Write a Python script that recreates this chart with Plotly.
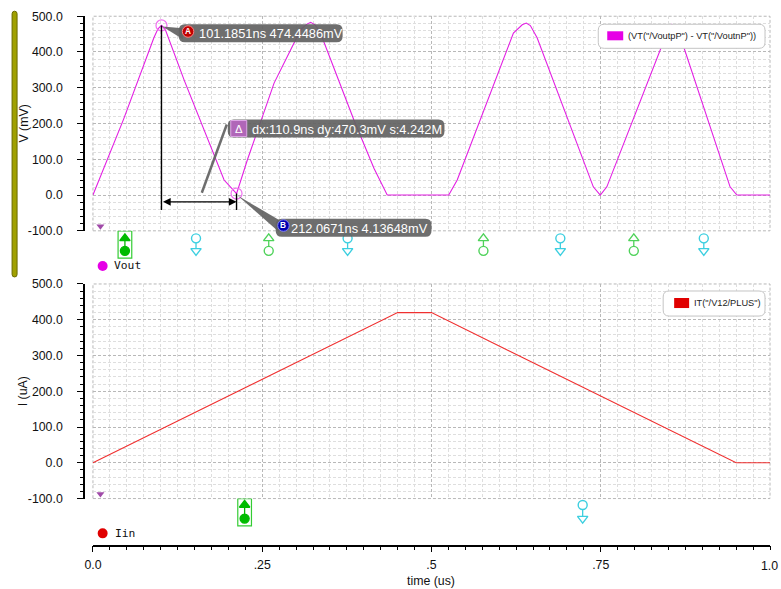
import plotly.graph_objects as go

# ---------------- data ----------------
vout_t = [0.000, 0.045, 0.090, 0.0960, 0.1012, 0.1070, 0.135, 0.169, 0.1937, 0.2121,
          0.228, 0.2675, 0.307, 0.3160, 0.3215, 0.3280, 0.336, 0.3854, 0.415, 0.4346,
          0.5255, 0.538, 0.621, 0.6340, 0.6400, 0.6460, 0.656, 0.739, 0.7493, 0.759,
          0.8476, 0.8550, 0.8620, 0.8673, 0.941, 0.951, 1.000]
vout_mv = [0.0, 211.0, 440.0, 465.0, 474.4, 462.0, 320.0, 160.0, 42.0, 4.1,
           98.0, 313.0, 463.0, 478.0, 483.0, 476.0, 453.0, 210.0, 75.0, 0.0,
           0.0, 42.0, 453.0, 476.0, 481.0, 474.0, 440.0, 23.0, 0.0, 23.0,
           453.0, 477.0, 465.0, 444.0, 23.0, 0.0, 0.0]

iin_t = [0.0, 0.45, 0.50, 0.95, 1.0]
iin_ua = [0.0, 420.0, 420.0, 0.0, 0.0]

cursor_a = (0.1011851, 474.4486)
cursor_b = (0.2120671, 4.13648)
label_a = "101.1851ns 474.4486mV"
label_b = "212.0671ns 4.13648mV"
label_delta = "dx:110.9ns dy:470.3mV s:4.242M"

# crossing markers (time in us)
top_fill_green = [0.0472]
top_open_green = [0.2596, 0.5767, 0.7988]
top_cyan = [0.1522, 0.3761, 0.6903, 0.9022]
bot_fill_green = [0.2240]
bot_cyan = [0.7233]

x_major = [0.0, 0.25, 0.5, 0.75, 1.0]
x_major_text = ["0.0", ".25", ".5", ".75", ""]
x_last_text = "1.0"
x_minor = [round(i * 0.025, 3) for i in range(41)]
y_major = [-100, 0, 100, 200, 300, 400, 500]
y_major_text = ["-100.0", "0.0", "100.0", "200.0", "300.0", "400.0", "500.0"]
y_minor = list(range(-100, 501, 20))

legend_top = '(VT("/VoutpP") - VT("/VoutnP"))'
legend_bot = 'IT("/V12/PLUS")'

# ---------------- geometry helpers ----------------
FIG_W, FIG_H = 781, 589
SX, SY = 781 / 789, 589 / 605          # how the photographed page ends up scaled
OX, OY = 8 * SX, 8 * SY
W, H = FIG_W * SX, FIG_H * SY
def px(x):
    return (x - OX) / W
def py(y):
    return 1 - (y - OY) / H
def fs(size):
    return round(size / SY, 2)

PX0, PX1 = 92, 770
TOP_Y0, TOP_Y1 = 17, 231
BOT_Y0, BOT_Y1 = 284, 498
MV_PER_PX = 600 / (TOP_Y1 - TOP_Y0)

def tx(t):
    return PX0 + (PX1 - PX0) * t
def vy_top(v):
    return TOP_Y1 - (v + 100) * (TOP_Y1 - TOP_Y0) / 600

def rrect(x0, y0, x1, y1, r):
    pts = [
        ("M", [(x0 + r, y0)]), ("L", [(x1 - r, y0)]), ("Q", [(x1, y0), (x1, y0 + r)]),
        ("L", [(x1, y1 - r)]), ("Q", [(x1, y1), (x1 - r, y1)]), ("L", [(x0 + r, y1)]),
        ("Q", [(x0, y1), (x0, y1 - r)]), ("L", [(x0, y0 + r)]), ("Q", [(x0, y0), (x0 + r, y0)]),
    ]
    s = ""
    for cmd, ps in pts:
        s += cmd + " " + " ".join(f"{px(a):.5f},{py(b):.5f}" for a, b in ps) + " "
    return s + "Z"

def poly(points):
    return "M " + " L ".join(f"{px(a):.5f},{py(b):.5f}" for a, b in points) + " Z"

MAGENTA = "#e31fe3"
RED = "#f03030"
CYAN = "#3ccfe0"
GREEN_O = "#4fd25a"
GREEN_F = "#00bb00"
MAJ = "#b8b8b8"
MIN = "#dedede"
FONT = "Liberation Sans, Arial, sans-serif"
GRAYBOX = "rgba(98,98,98,0.92)"

fig = go.Figure()

fig.add_trace(go.Scatter(x=vout_t, y=vout_mv, mode="lines", line=dict(color=MAGENTA, width=1.1),
                         xaxis="x", yaxis="y", showlegend=False, hoverinfo="skip"))
fig.add_trace(go.Scatter(x=iin_t, y=iin_ua, mode="lines", line=dict(color=RED, width=1.1),
                         xaxis="x2", yaxis="y2", showlegend=False, hoverinfo="skip"))

# cursor points
fig.add_trace(go.Scatter(x=[cursor_a[0], cursor_b[0]], y=[cursor_a[1], cursor_b[1]], mode="markers",
                         marker=dict(symbol="circle-open", size=11, color="#f070f0", line=dict(width=1.2)),
                         xaxis="x", yaxis="y", showlegend=False, hoverinfo="skip", cliponaxis=False))

# small purple triangles
for xa, ya in (("x", "y"), ("x2", "y2")):
    fig.add_trace(go.Scatter(x=[0.011], y=[-87], mode="markers",
                             marker=dict(symbol="triangle-down", size=7, color="#a04aa8"),
                             xaxis=xa, yaxis=ya, showlegend=False, hoverinfo="skip"))

def stem(ts, color, top_sym, bot_sym, filled, xa, ya, ytop=-121, ybot=-156):
    xs, ys = [], []
    for t in ts:
        xs += [t, t, None]
        ys += [ytop, ybot, None]
    fig.add_trace(go.Scatter(x=xs, y=ys, mode="lines", line=dict(color=color, width=1.3),
                             xaxis=xa, yaxis=ya, showlegend=False, hoverinfo="skip", cliponaxis=False))
    fill = color if filled else "white"
    for sym, yy in ((top_sym, ytop), (bot_sym, ybot)):
        fig.add_trace(go.Scatter(x=ts, y=[yy] * len(ts), mode="markers",
                                 marker=dict(symbol=sym, size=9, color=fill, line=dict(color=color, width=1.4)),
                                 xaxis=xa, yaxis=ya, showlegend=False, hoverinfo="skip", cliponaxis=False))

stem(top_fill_green, GREEN_F, "triangle-up", "circle", True, "x3", "y3")
stem(top_open_green, GREEN_O, "triangle-up", "circle", False, "x3", "y3")
stem(top_cyan, CYAN, "circle", "triangle-down", False, "x3", "y3")
stem(bot_fill_green, GREEN_F, "triangle-up", "circle", True, "x4", "y4", ytop=-118, ybot=-156)
stem(bot_cyan, CYAN, "circle", "triangle-down", False, "x4", "y4", ytop=-118, ybot=-156)

shapes = []
annotations = []

# plot frames (dashed)
for y0, y1 in ((TOP_Y0, TOP_Y1), (BOT_Y0, BOT_Y1)):
    shapes.append(dict(type="rect", xref="paper", yref="paper", x0=px(PX0), x1=px(PX1), y0=py(y1), y1=py(y0),
                       line=dict(color=MAJ, width=1, dash="3px,2px"), layer="below"))

# green boxes around filled markers
for t, xa, ya in ((top_fill_green[0], "x3", "y3"), (bot_fill_green[0], "x4", "y4")):
    shapes.append(dict(type="rect", xref=xa, yref=ya, x0=t - 0.0101, x1=t + 0.0101,
                       y0=-100.5, y1=-176.5, line=dict(color="#33cc33", width=1.2)))

# olive bar
shapes.append(dict(type="path", xref="paper", yref="paper", path=rrect(11, 12, 16, 277, 2.5),
                   fillcolor="#a0a000", line=dict(color="#6a6a00", width=1)))

# cursor lines
ya_px = vy_top(cursor_a[1])
yb_px = vy_top(cursor_b[1])
shapes.append(dict(type="line", xref="x", yref="y", x0=cursor_a[0], x1=cursor_a[0], y0=cursor_a[1], y1=-42,
                   line=dict(color="black", width=1.4)))
shapes.append(dict(type="line", xref="x", yref="y", x0=cursor_b[0], x1=cursor_b[0], y0=cursor_b[1], y1=-42,
                   line=dict(color="black", width=1.4)))
annotations.append(dict(x=cursor_b[0], y=-19, ax=cursor_a[0], ay=-19, xref="x", yref="y", axref="x", ayref="y",
                        text="", showarrow=True, arrowhead=2, arrowside="end+start", arrowsize=1.1,
                        arrowwidth=1.4, arrowcolor="black"))

xa_px = tx(cursor_a[0])
xb_px = tx(cursor_b[0])

# connectors
shapes.append(dict(type="path", xref="paper", yref="paper",
                   path=poly([(xa_px + 1, ya_px + 1), (182, 29), (182, 40)]), fillcolor=GRAYBOX, line=dict(width=0)))
shapes.append(dict(type="path", xref="paper", yref="paper",
                   path=poly([(xb_px + 1, yb_px + 2), (278, 220), (278, 232)]), fillcolor=GRAYBOX, line=dict(width=0)))
shapes.append(dict(type="line", xref="paper", yref="paper", x0=px(201), y0=py(193), x1=px(226), y1=py(125),
                   line=dict(color="rgba(98,98,98,0.92)", width=2.5)))

# label boxes
shapes.append(dict(type="path", xref="paper", yref="paper", path=rrect(178, 25, 342, 43, 6),
                   fillcolor=GRAYBOX, line=dict(width=0)))
shapes.append(dict(type="path", xref="paper", yref="paper", path=rrect(227, 120, 444, 138, 6),
                   fillcolor=GRAYBOX, line=dict(width=0)))
shapes.append(dict(type="path", xref="paper", yref="paper", path=rrect(275, 219, 431, 237, 6),
                   fillcolor=GRAYBOX, line=dict(width=0)))
# icons
shapes.append(dict(type="circle", xref="paper", yref="paper", x0=px(181.5), x1=px(193), y0=py(38), y1=py(26.5),
                   fillcolor="#c00000", line=dict(color="#ff8080", width=1)))
shapes.append(dict(type="circle", xref="paper", yref="paper", x0=px(277), x1=px(288.5), y0=py(231.5), y1=py(220),
                   fillcolor="#0000b0", line=dict(color="#8080ff", width=1)))
shapes.append(dict(type="rect", xref="paper", yref="paper", x0=px(230), x1=px(246), y0=py(137), y1=py(121),
                   fillcolor="#b066b8", line=dict(color="#e0a8e8", width=1)))

def note(x, y, text, size, color, family=FONT, xanchor="center", angle=0):
    annotations.append(dict(x=px(x), y=py(y), xref="paper", yref="paper", text=text, showarrow=False,
                            textangle=angle, font=dict(family=family, size=fs(size), color=color),
                            xanchor=xanchor, yanchor="middle"))

note(187.3, 32.3, "<b>A</b>", 8, "white")
note(282.8, 225.8, "<b>B</b>", 8, "white")
note(238, 129, "Δ", 11, "white")
note(196, 34, label_a, 12.5, "white", xanchor="left")
note(249, 129.5, label_delta, 12.5, "white", xanchor="left")
note(288.5, 228.5, label_b, 12.5, "white", xanchor="left")

# legend boxes
shapes.append(dict(type="path", xref="paper", yref="paper", path=rrect(598, 25, 765, 49, 6),
                   fillcolor="white", line=dict(color="#c4c4c4", width=1)))
shapes.append(dict(type="rect", xref="paper", yref="paper", x0=px(607), x1=px(623), y0=py(41), y1=py(32),
                   fillcolor="#e600e6", line=dict(width=0)))
note(626, 37, legend_top, 9, "#222222", xanchor="left")
shapes.append(dict(type="path", xref="paper", yref="paper", path=rrect(663, 291, 765, 316, 6),
                   fillcolor="white", line=dict(color="#c4c4c4", width=1)))
shapes.append(dict(type="rect", xref="paper", yref="paper", x0=px(674), x1=px(689), y0=py(308), y1=py(298),
                   fillcolor="#e00000", line=dict(width=0)))
note(692, 303, legend_bot, 9, "#222222", xanchor="left")

# signal name labels
shapes.append(dict(type="circle", xref="paper", yref="paper", x0=px(96.7), x1=px(106.7), y0=py(271), y1=py(261),
                   fillcolor="#e600e6", line=dict(width=0)))
note(111, 266, "Vout", 11, "#111111", family="DejaVu Sans Mono, monospace", xanchor="left")
shapes.append(dict(type="circle", xref="paper", yref="paper", x0=px(96.7), x1=px(106.7), y0=py(537.7), y1=py(527.7),
                   fillcolor="#e00000", line=dict(width=0)))
note(112, 532.7, "Iin", 11, "#111111", family="DejaVu Sans Mono, monospace", xanchor="left")

# axis titles
note(22, 124, "V (mV)", 12, "#111111", angle=-90)
note(22, 391, "I (uA)", 12, "#111111", angle=-90)
note(431, 580, "time (us)", 12, "#111111")
# last x tick label (kept inside the figure edge)
note(769.5, 565, x_last_text, 12, "#111111")

grid_dash = "3px,2px"
TICKFONT = dict(family=FONT, size=fs(12), color="#111111")
xgrid = dict(range=[0, 1], domain=[px(PX0), px(PX1)], tickmode="array", tickvals=x_major,
             showgrid=True, gridcolor=MAJ, griddash=grid_dash, gridwidth=1, zeroline=False,
             minor=dict(tickvals=x_minor, showgrid=True, gridcolor=MIN, griddash=grid_dash, gridwidth=1))
ygrid = dict(range=[-100, 500], tickmode="array", tickvals=y_major, ticktext=y_major_text,
             showgrid=True, gridcolor=MAJ, griddash=grid_dash, gridwidth=1, zeroline=False,
             anchor="free", position=px(83), showline=True, linecolor="black", linewidth=1.5,
             ticks="outside", ticklen=6, tickcolor="black", tickwidth=1, ticklabelstandoff=12,
             tickfont=TICKFONT,
             minor=dict(tickvals=y_minor, showgrid=True, gridcolor=MIN, griddash=grid_dash, gridwidth=1,
                        ticks="outside", ticklen=3, tickcolor="black"))

# hidden overlay axes for the marker rows below each plot
mark_top = (231, 262)
mark_bot = (498, 529)
hidden_x = dict(range=[0, 1], domain=[px(PX0), px(PX1)], visible=False, showgrid=False, zeroline=False)

fig.update_layout(
    width=FIG_W, height=FIG_H, autosize=False,
    margin=dict(l=0, r=0, t=0, b=0),
    paper_bgcolor="white", plot_bgcolor="rgba(0,0,0,0)",
    showlegend=False,
    xaxis=dict(**xgrid, anchor="y", showticklabels=False, ticks="", showline=False),
    yaxis=dict(**ygrid, domain=[py(TOP_Y1), py(TOP_Y0)]),
    xaxis2=dict(**xgrid, anchor="free", position=py(545), ticktext=x_major_text, showline=True,
                linecolor="black", linewidth=1.5, ticks="outside", ticklen=6, tickcolor="black",
                ticklabelstandoff=2, tickfont=TICKFONT),
    yaxis2=dict(**ygrid, domain=[py(BOT_Y1), py(BOT_Y0)]),
    xaxis3=dict(**hidden_x, anchor="y3"),
    yaxis3=dict(domain=[py(mark_top[1]), py(mark_top[0])], anchor="x3", visible=False, showgrid=False,
                zeroline=False, range=[-100 - (mark_top[1] - mark_top[0]) * MV_PER_PX, -100]),
    xaxis4=dict(**hidden_x, anchor="y4"),
    yaxis4=dict(domain=[py(mark_bot[1]), py(mark_bot[0])], anchor="x4", visible=False, showgrid=False,
                zeroline=False, range=[-100 - (mark_bot[1] - mark_bot[0]) * MV_PER_PX, -100]),
    shapes=shapes,
    annotations=annotations,
)
fig.layout.xaxis2.minor.update(ticks="outside", ticklen=4, tickcolor="black")

fig.write_html("out.html", config={"displayModeBar": False},
               post_script="document.body.style.margin='0px';document.body.style.overflow='hidden';")
